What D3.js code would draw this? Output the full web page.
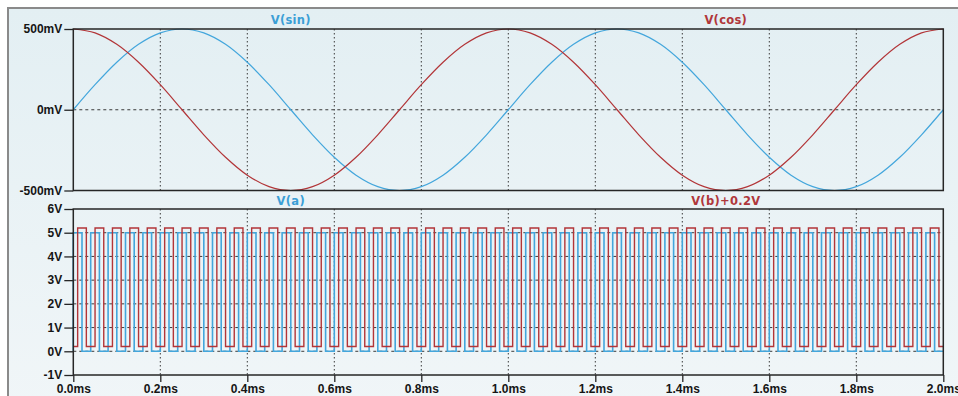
<!DOCTYPE html>
<html><head><meta charset="utf-8">
<script src="https://cdn.jsdelivr.net/npm/d3@7"></script>
<style>
body{margin:0;background:#fff;}
svg{display:block;font-family:"DejaVu Sans",Verdana,sans-serif;}
</style></head><body><svg id="c" width="958" height="396"></svg>
<script>
// ---- data ----
const timeMs = [0,0.05,0.1,0.15,0.2,0.25,0.3,0.35,0.4,0.45,0.5,0.55,0.6,0.65,0.7,0.75,0.8,0.85,0.9,0.95,1.0,
  1.05,1.1,1.15,1.2,1.25,1.3,1.35,1.4,1.45,1.5,1.55,1.6,1.65,1.7,1.75,1.8,1.85,1.9,1.95,2.0];
const vSin = [0,155,294,405,476,500,476,405,294,155,0,-155,-294,-405,-476,-500,-476,-405,-294,-155,0,
  155,294,405,476,500,476,405,294,155,0,-155,-294,-405,-476,-500,-476,-405,-294,-155,0];
const vCos = [500,476,405,294,155,0,-155,-294,-405,-476,-500,-476,-405,-294,-155,0,155,294,405,476,500,
  476,405,294,155,0,-155,-294,-405,-476,-500,-476,-405,-294,-155,0,155,294,405,476,500];
const vaPulseStartMs = [0,0.04,0.08,0.12,0.16,0.2,0.24,0.28,0.32,0.36,0.4,0.44,0.48,0.52,0.56,0.6,0.64,0.68,0.72,0.76,
  0.8,0.84,0.88,0.92,0.96,1.0,1.04,1.08,1.12,1.16,1.2,1.24,1.28,1.32,1.36,1.4,1.44,1.48,1.52,1.56,
  1.6,1.64,1.68,1.72,1.76,1.8,1.84,1.88,1.92,1.96];
const vbPulseStartMs = [0.01,0.05,0.09,0.13,0.17,0.21,0.25,0.29,0.33,0.37,0.41,0.45,0.49,0.53,0.57,0.61,0.65,0.69,0.73,0.77,
  0.81,0.85,0.89,0.93,0.97,1.01,1.05,1.09,1.13,1.17,1.21,1.25,1.29,1.33,1.37,1.41,1.45,1.49,1.53,1.57,
  1.61,1.65,1.69,1.73,1.77,1.81,1.85,1.89,1.93,1.97];
const pulseWidthMs = 0.02;
const pulseLowV = 0, pulseHighV = 5;
const vbOffsetV = 0.2;
const xTicks = [0,0.2,0.4,0.6,0.8,1.0,1.2,1.4,1.6,1.8,2.0];
const xTickLabels = ["0.0ms","0.2ms","0.4ms","0.6ms","0.8ms","1.0ms","1.2ms","1.4ms","1.6ms","1.8ms","2.0ms"];
const topTicks = [500,0,-500];
const topTickLabels = ["500mV","0mV","-500mV"];
const botTicks = [6,5,4,3,2,1,0,-1];
const botTickLabels = ["6V","5V","4V","3V","2V","1V","0V","-1V"];
const topTraceNames = ["V(sin)","V(cos)"];
const botTraceNames = ["V(a)","V(b)+0.2V"];

// ---- styles ----
const BLUE = "#43a6dc", RED = "#b23538";
const BLUE_TXT = "#3b9fd6", RED_TXT = "#b0373a";
const FRAME = "#262626";

const svg = d3.select("#c");
const defs = svg.append("defs");
const g = defs.append("linearGradient").attr("id","bg").attr("x1",0).attr("y1",0).attr("x2",0).attr("y2",1);
g.append("stop").attr("offset","0%").attr("stop-color","#e3eff3");
g.append("stop").attr("offset","100%").attr("stop-color","#f1f6f8");

svg.append("rect").attr("x",8).attr("y",8).attr("width",980).attr("height",420)
  .attr("fill","url(#bg)").attr("stroke","#8a8a8a").attr("stroke-width",2);

const x = d3.scaleLinear().domain([0,2]).range([73.3,943.3]);
const yTop = d3.scaleLinear().domain([-500,500]).range([190.5,29]);
const yBot = d3.scaleLinear().domain([-1,6]).range([375,209]);

function grid(yScale, hVals){
  const gg = svg.append("g");
  gg.selectAll("line.v").data(xTicks.slice(1,-1)).join("line")
    .attr("x1",d=>x(d)).attr("x2",d=>x(d))
    .attr("y1",yScale.range()[1]).attr("y2",yScale.range()[0])
    .attr("stroke","#3a3a3a").attr("stroke-width",1).attr("stroke-dasharray","1.5,2.5");
  gg.selectAll("line.h").data(hVals).join("line")
    .attr("x1",x(0)).attr("x2",x(2))
    .attr("y1",d=>yScale(d)).attr("y2",d=>yScale(d))
    .attr("stroke","#3a3a3a").attr("stroke-width",1).attr("stroke-dasharray","3,3");
}
grid(yTop, [0]);
grid(yBot, [5,4,3,2,1,0]);

// sine traces
const sinLine = d3.line().x((d,i)=>x(timeMs[i])).y(d=>yTop(d)).curve(d3.curveCatmullRom);
svg.append("path").attr("d",sinLine(vSin)).attr("fill","none").attr("stroke",BLUE).attr("stroke-width",1.2);
svg.append("path").attr("d",sinLine(vCos)).attr("fill","none").attr("stroke",RED).attr("stroke-width",1.2);

// square traces
function pulsePoints(starts, offset){
  const pts = [[0,pulseLowV+offset]];
  starts.forEach(s=>{
    pts.push([s,pulseLowV+offset],[s,pulseHighV+offset],[s+pulseWidthMs,pulseHighV+offset],[s+pulseWidthMs,pulseLowV+offset]);
  });
  pts.push([2,pulseLowV+offset]);
  return pts;
}
const sqLine = d3.line().x(d=>x(d[0])).y(d=>yBot(d[1]));
svg.append("path").attr("d",sqLine(pulsePoints(vaPulseStartMs,0))).attr("fill","none")
  .attr("stroke",BLUE).attr("stroke-width",1.6);
svg.append("path").attr("d",sqLine(pulsePoints(vbPulseStartMs,vbOffsetV))).attr("fill","none")
  .attr("stroke",RED).attr("stroke-width",1.4);

// frames
[yTop,yBot].forEach(ys=>{
  svg.append("rect").attr("x",x(0)).attr("y",ys.range()[1])
    .attr("width",x(2)-x(0)).attr("height",ys.range()[0]-ys.range()[1])
    .attr("fill","none").attr("stroke",FRAME).attr("stroke-width",1.5);
});

// axes
function styleAxis(sel){
  sel.select(".domain").remove();
  sel.selectAll(".tick line").attr("stroke",FRAME).attr("stroke-width",1.3);
  sel.selectAll(".tick text").attr("fill","#151515").style("font-weight","bold")
    .style("font-size","12px");
}
svg.append("g").attr("transform",`translate(${x(0)},0)`)
  .call(d3.axisLeft(yTop).tickValues(topTicks).tickFormat((d,i)=>topTickLabels[i]).tickSize(9).tickPadding(2))
  .call(styleAxis);
svg.append("g").attr("transform",`translate(${x(0)},0)`)
  .call(d3.axisLeft(yBot).tickValues(botTicks).tickFormat((d,i)=>botTickLabels[i]).tickSize(9).tickPadding(2))
  .call(styleAxis);
svg.append("g").attr("transform",`translate(0,${yBot(-1)})`)
  .call(d3.axisBottom(x).tickValues(xTicks).tickFormat((d,i)=>xTickLabels[i]).tickSize(7).tickPadding(2))
  .call(styleAxis);

// trace names
function label(txt, t, y, col){
  svg.append("text").attr("x",x(t)).attr("y",y).attr("text-anchor","middle")
    .attr("fill",col).style("font-weight","bold").style("font-size","11.5px").style("letter-spacing","0.3px").text(txt);
}
label(topTraceNames[0],0.5,24,BLUE_TXT);
label(topTraceNames[1],1.5,24,RED_TXT);
label(botTraceNames[0],0.5,205,BLUE_TXT);
label(botTraceNames[1],1.5,205,RED_TXT);
</script></body></html>
